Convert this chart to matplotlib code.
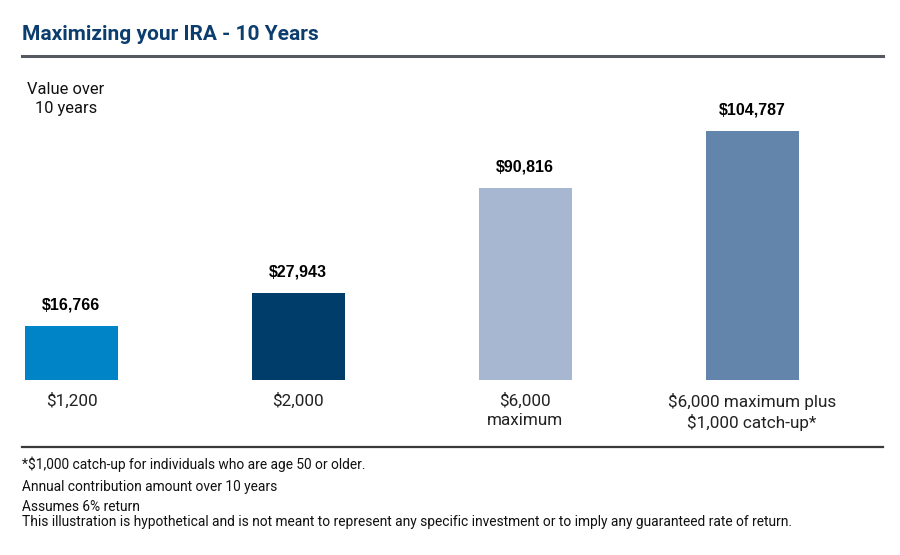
import matplotlib
matplotlib.use('Agg')
import matplotlib.pyplot as plt
from matplotlib.lines import Line2D

# chart data
categories = ['$1,200', '$2,000', '$6,000\nmaximum', '$6,000 maximum plus\n$1,000 catch-up*']
values = [16766, 27943, 90816, 104787]
# drawn bar heights (bars are not to scale with the labels)
bar_heights = [22700, 36600, 80800, 104787]
colors = ['#0084c8', '#003d6b', '#a7b7d2', '#6384ab']

footnotes = [
    '*$1,000 catch-up for individuals who are age 50 or older.',
    'Annual contribution amount over 10 years',
    'Assumes 6% return',
    'This illustration is hypothetical and is not meant to represent any specific investment or to imply any guaranteed rate of return.',
]

plt.rcParams['font.family'] = ['Roboto', 'DejaVu Sans']

fig = plt.figure(figsize=(9, 5.55), dpi=100)
W, H = 900, 555

def fx(px):
    return px / W

def fy(py):
    return 1 - py / H

# title and rules
fig.text(fx(22), fy(34), 'Maximizing your IRA - 10 Years', fontsize=15, fontweight='bold',
         color='#0b3d6e', va='center', ha='left')
fig.add_artist(Line2D([fx(22), fx(883)], [fy(56), fy(56)], color='#555a60', lw=2.2))
fig.add_artist(Line2D([fx(22), fx(883)], [fy(447), fy(447)], color='#3a3a3a', lw=1.6))

fig.text(fx(66), fy(99), 'Value over\n10 years', fontsize=11.9, ha='center', va='center',
         color='#111111', linespacing=1.38)

# bars
ax = fig.add_axes([fx(22), fy(380), fx(883) - fx(22), fy(100) - fy(380)])
x = list(range(len(categories)))
ax.bar(x, bar_heights, width=0.41, color=colors)
ax.set_xlim(-0.218, 3.577)
ax.set_ylim(0, 104787 * 280 / 249)
ax.axis('off')

for xi, h, v in zip(x, bar_heights, values):
    ax.annotate(f'${v:,}', (xi, h), xytext=(0, 10), textcoords='offset points',
                ha='center', va='bottom', fontsize=11.5, fontweight='bold',
                family=['Liberation Sans', 'DejaVu Sans'], color='#000000')

for xi, lab in zip(x, categories):
    ax.annotate(lab, (xi, 0), xytext=(0, -9), textcoords='offset points',
                ha='center', va='top', fontsize=12.3, color='#222222', linespacing=1.32)

ys = [464, 487, 507, 522]
for y, t in zip(ys, footnotes):
    fig.text(fx(22), fy(y), t, fontsize=9.9, ha='left', va='center', color='#111111')

fig.savefig('out.png', dpi=100)
